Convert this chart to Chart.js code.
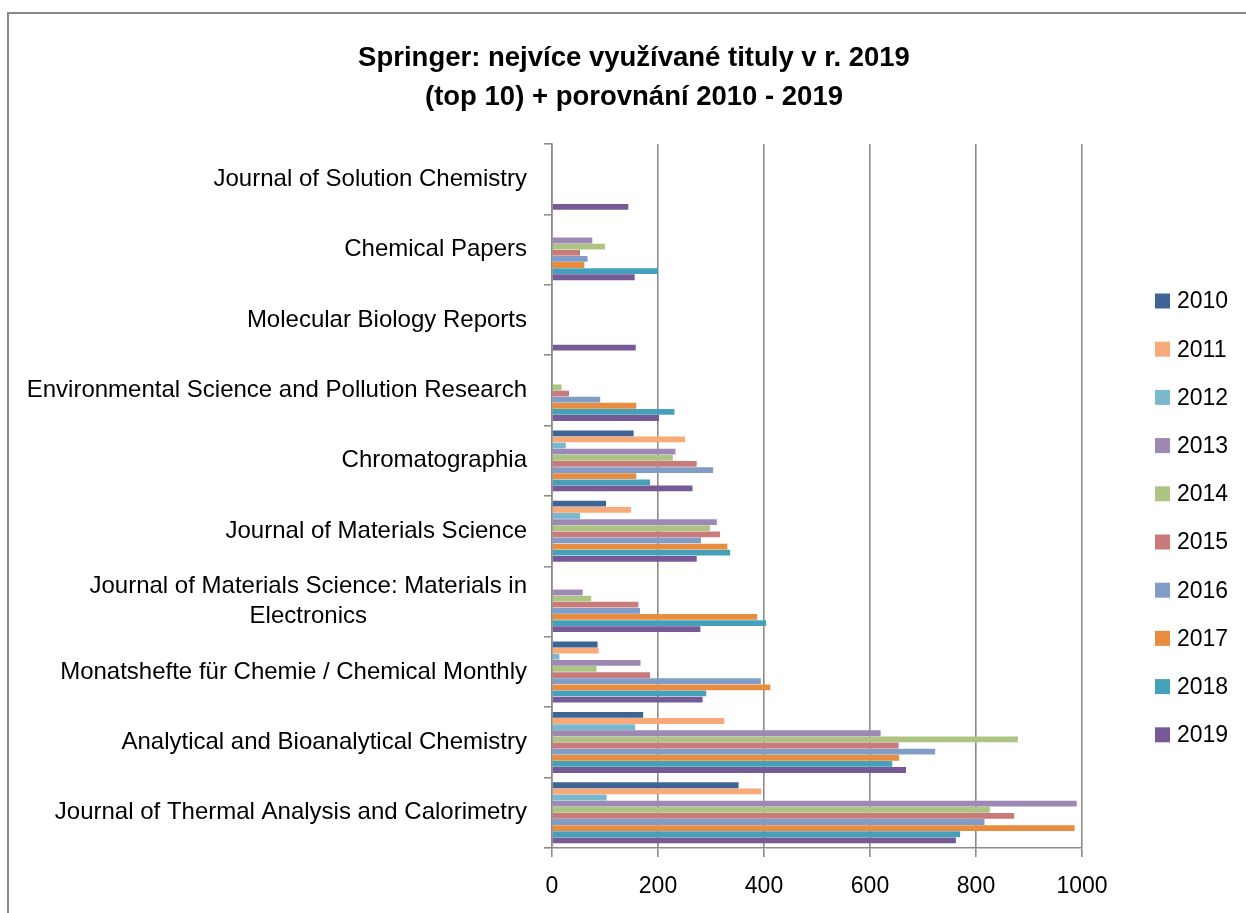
<!DOCTYPE html>
<html lang="cs">
<head>
  <meta charset="UTF-8" />
  <title>Springer: nejvíce využívané tituly v r. 2019</title>
  <script src="https://cdn.jsdelivr.net/npm/chart.js"></script>
  <style>
    body {
      margin: 0;
      background: #fff;
      overflow: hidden;
    }
    .frame {
      position: absolute;
      left: 7px;
      top: 12px;
      width: 1300px;
      height: 1000px;
      border: 2px solid #888;
    }
    #chart {
      position: absolute;
      left: 0;
      top: 0;
    }
  </style>
</head>
<body>
  <div class="frame"></div>
  <canvas id="chart" width="1246" height="913"></canvas>

  <script>
    const categories = [
      'Journal of Solution Chemistry',
      'Chemical Papers',
      'Molecular Biology Reports',
      'Environmental Science and Pollution Research',
      'Chromatographia',
      'Journal of Materials Science',
      ['Journal of Materials Science: Materials in', 'Electronics'],
      'Monatshefte für Chemie / Chemical Monthly',
      'Analytical and Bioanalytical Chemistry',
      'Journal of Thermal Analysis and Calorimetry'
    ];

    const years = ['2010', '2011', '2012', '2013', '2014', '2015', '2016', '2017', '2018', '2019'];

    const v2010 = [null, null, null, null, 154, 102, null, 86, 172, 352];
    const v2011 = [null, null, null, null, 251, 149, null, 88, 325, 395];
    const v2012 = [null, null, null, null, 26, 53, null, 14, 157, 103];
    const v2013 = [null, 76, null, null, 233, 311, 58, 167, 620, 990];
    const v2014 = [null, 100, null, 18, 228, 298, 74, 84, 879, 826];
    const v2015 = [null, 53, null, 32, 273, 317, 163, 185, 654, 872];
    const v2016 = [null, 67, null, 91, 304, 281, 166, 394, 723, 816];
    const v2017 = [null, 61, null, 159, 159, 331, 387, 412, 655, 986];
    const v2018 = [null, 200, null, 231, 185, 336, 404, 291, 642, 770];
    const v2019 = [144, 156, 158, 202, 265, 273, 280, 284, 668, 762];

    const xTicks = [0, 200, 400, 600, 800, 1000];

    const seriesValues = [v2010, v2011, v2012, v2013, v2014, v2015, v2016, v2017, v2018, v2019];
    const colors = ['#3e6496', '#f9aa79', '#7ab8ce', '#9d89b4', '#adc482',
                    '#c97b7b', '#7f9dc7', '#e88c3f', '#45a0ba', '#765a96'];

    const FONT = '"Liberation Sans", Arial, sans-serif';
    const LABEL_SIZE = 24;

    // second line of a wrapped label is centred under the first one (as in Excel)
    function centerSecondLine(lines) {
      const c = document.createElement('canvas').getContext('2d');
      c.font = LABEL_SIZE + 'px ' + FONT;
      const gap = (c.measureText(lines[0]).width - c.measureText(lines[1]).width) / 2;
      const n = Math.round(gap / c.measureText('\u00a0').width);
      return [lines[0], lines[1] + '\u00a0'.repeat(Math.max(n, 0))];
    }

    const labels = categories.map(c => Array.isArray(c) ? centerSecondLine(c) : c);

    const sideLegend = {
      id: 'sideLegend',
      afterDraw(chart) {
        const ctx = chart.ctx;
        ctx.save();
        ctx.font = '23px ' + FONT;
        ctx.textBaseline = 'middle';
        chart.data.datasets.forEach((ds, i) => {
          const y = 301 + i * 48.2;
          ctx.fillStyle = ds.backgroundColor;
          ctx.fillRect(1155, y - 7.5, 15, 15);
          ctx.fillStyle = '#000';
          ctx.fillText(ds.label, 1177, y + 1);
        });
        ctx.restore();
      }
    };

    const gridColor = '#8c8c8c';

    new Chart(document.getElementById('chart'), {
      type: 'bar',
      data: {
        labels: labels,
        datasets: years.map((year, i) => ({
          label: year,
          data: seriesValues[i],
          backgroundColor: colors[i],
          borderWidth: 0,
          categoryPercentage: 0.87,
          barPercentage: 0.95
        }))
      },
      options: {
        indexAxis: 'y',
        responsive: false,
        animation: false,
        layout: {
          padding: { left: 22, right: 0, top: 0, bottom: 0 }
        },
        plugins: {
          legend: { display: false },
          tooltip: { enabled: false },
          title: {
            display: true,
            text: ['Springer: nejvíce využívané tituly v r. 2019', '(top 10) + porovnání 2010 - 2019'],
            color: '#000',
            font: { family: FONT, size: 27.5, weight: 'bold', lineHeight: 1.42 },
            padding: { top: 39, bottom: 27 }
          }
        },
        scales: {
          x: {
            min: 0,
            max: 1000,
            afterBuildTicks: scale => {
              scale.ticks = xTicks.map(v => ({ value: v }));
            },
            afterFit: scale => {
              scale.height = 65;
            },
            ticks: {
              color: '#000',
              padding: 16,
              font: { family: FONT, size: 23 },
              callback: value => String(value)
            },
            grid: {
              color: gridColor,
              lineWidth: 1.6,
              tickLength: 9
            },
            border: { color: gridColor, width: 1.6 }
          },
          y: {
            afterFit: scale => {
              scale.width = 530;
            },
            ticks: {
              color: '#000',
              padding: 17,
              font: { family: FONT, size: LABEL_SIZE, lineHeight: 1.25 }
            },
            grid: {
              offset: true,
              drawOnChartArea: false,
              color: gridColor,
              lineWidth: 1.6,
              tickLength: 8
            },
            border: { color: gridColor, width: 1.6 }
          },
          // empty right-hand axis keeps room for the legend
          legendSpace: {
            type: 'linear',
            position: 'right',
            afterFit: scale => {
              scale.width = 164;
            },
            ticks: { display: false },
            grid: { display: false },
            border: { display: false }
          }
        }
      },
      plugins: [sideLegend]
    });
  </script>
</body>
</html>
